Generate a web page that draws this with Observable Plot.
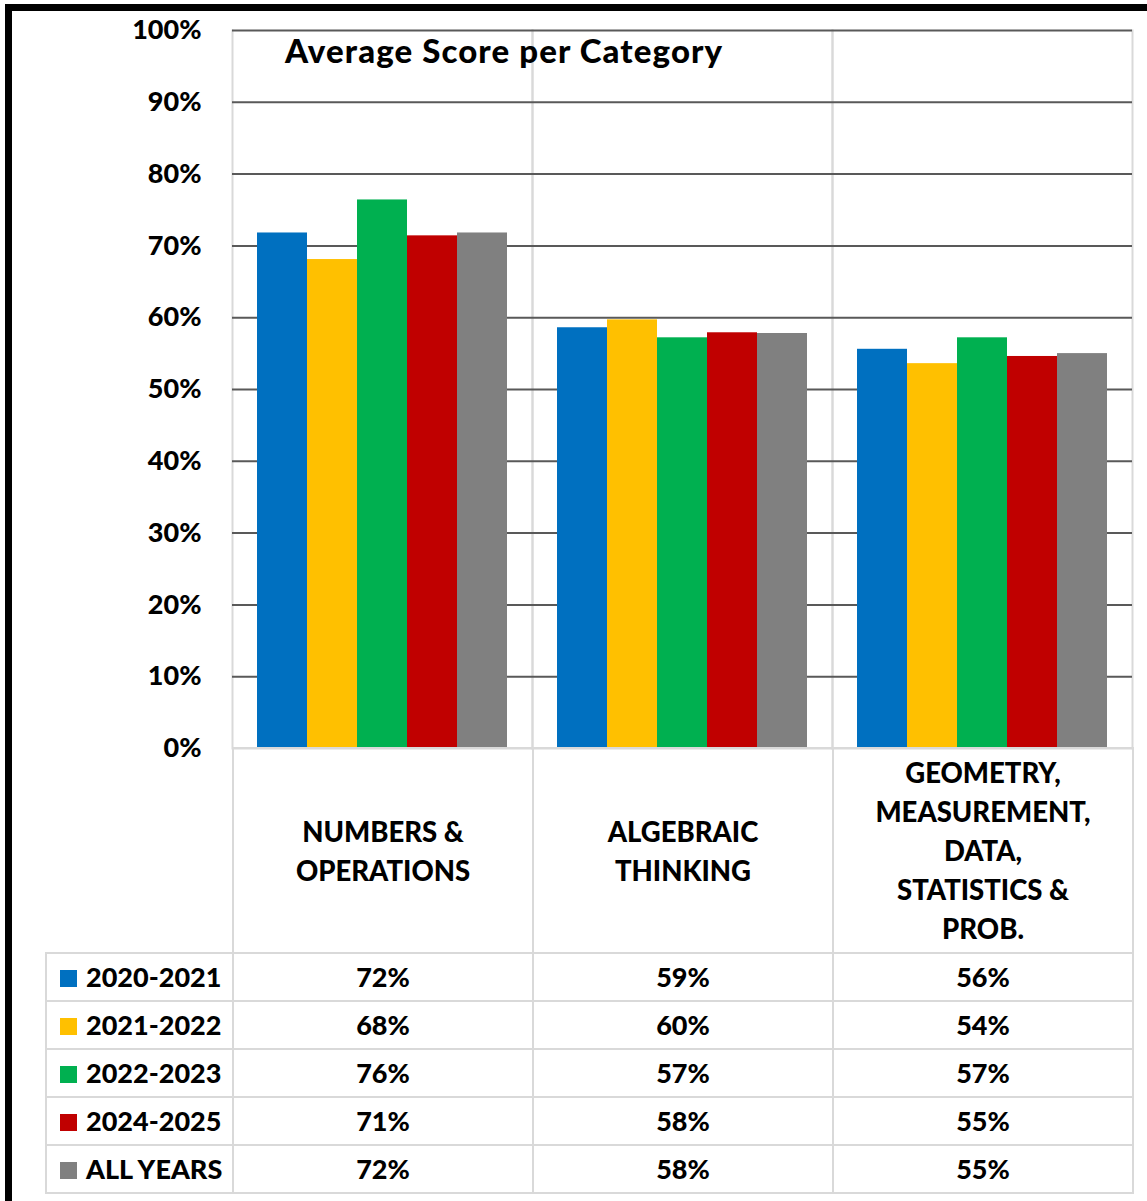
<!DOCTYPE html>
<html>
<head>
<meta charset="utf-8">
<script src="https://cdn.jsdelivr.net/npm/d3@7"></script>
<script src="https://cdn.jsdelivr.net/npm/@observablehq/plot@0.6"></script>
<style>
  html, body { margin: 0; padding: 0; background: #fff; }
  body { font-family: Lato, "Open Sans", sans-serif; font-weight: 900; color: #000; }
  #wrap { position: relative; width: 1147px; height: 1201px; overflow: hidden; background: #fff; }
  #frame { position: absolute; left: 5px; top: 4px; width: 1300px; height: 1400px;
           border-left: 7px solid #000; border-top: 7px solid #000; box-sizing: border-box; pointer-events: none; z-index: 5; }
  #chart { position: absolute; left: 0; top: 0; }
  #title { position: absolute; left: 285px; top: 30px; font-size: 33px; font-weight: 900; letter-spacing: 1.1px; white-space: nowrap; line-height: 40px; z-index: 3; }
  #tbl { position: absolute; left: 45px; top: 747px; border-collapse: collapse; table-layout: fixed; width: 1089px; }
  #tbl td { border: 2px solid #d9d9d9; font-size: 27px; font-weight: 900; text-align: center; vertical-align: middle; padding: 0; }
  #tbl tr.cat td { height: 203px; line-height: 39px; font-size: 27.5px; }
  #tbl tr.cat td.blank { border-top: none; border-left: none; border-right: none; }
  #tbl tr.row td { height: 46px; line-height: 46px; }
  #tbl td.lab { text-align: left; padding-left: 13px; white-space: nowrap; }
  .sw { display: inline-block; width: 17px; height: 17px; margin-right: 9px; vertical-align: 0px; }
</style>
</head>
<body>
<div id="wrap">
  <div id="chart"></div>
  <div id="title"></div>
  <table id="tbl"></table>
  <div id="frame"></div>
</div>
<script>
// ---- data ----
const title = "Average Score per Category";
const categories = ["NUMBERS & OPERATIONS", "ALGEBRAIC THINKING", "GEOMETRY, MEASUREMENT, DATA, STATISTICS & PROB."];
const categoryLines = [
  ["NUMBERS &", "OPERATIONS"],
  ["ALGEBRAIC", "THINKING"],
  ["GEOMETRY,", "MEASUREMENT,", "DATA,", "STATISTICS &", "PROB."]
];
const series = ["2020-2021", "2021-2022", "2022-2023", "2024-2025", "ALL YEARS"];
const seriesColors = ["#0070C0", "#FFC000", "#00B050", "#C00000", "#808080"];
const s2020 = [0.718, 0.586, 0.556];
const s2021 = [0.681, 0.597, 0.536];
const s2022 = [0.764, 0.572, 0.572];
const s2024 = [0.714, 0.579, 0.546];
const sAll  = [0.718, 0.578, 0.550];
const yTicks = [0, 0.1, 0.2, 0.3, 0.4, 0.5, 0.6, 0.7, 0.8, 0.9, 1.0];

const seriesValues = [s2020, s2021, s2022, s2024, sAll];
const pct = d3.format(".0%");

const data = [];
series.forEach((s, i) => categories.forEach((c, j) => data.push({ category: c, series: s, value: seriesValues[i][j] })));

const chart = Plot.plot({
  width: 1147,
  height: 760,
  marginLeft: 232,
  marginRight: 15,
  marginTop: 30,
  marginBottom: 12,
  style: { fontFamily: "Lato, 'Open Sans', sans-serif", fontWeight: 900, fontSize: "27px", color: "#000", background: "transparent", overflow: "visible" },
  fx: { domain: categories, padding: 0, axis: null },
  x: { domain: series, paddingInner: 0, paddingOuter: 0.5, axis: null },
  y: { domain: [0, 1], axis: null },
  color: { domain: series, range: seriesColors },
  marks: [
    Plot.frame({ anchor: "left", stroke: "#d9d9d9", strokeWidth: 2 }),
    Plot.frame({ anchor: "right", stroke: "#d9d9d9", strokeWidth: 2 }),
    Plot.gridY(yTicks.filter(t => t > 0), { stroke: "#595959", strokeWidth: 2, strokeOpacity: 1 }),
    Plot.axisY(yTicks, { tickFormat: pct, tickSize: 0, tickPadding: 31, fontSize: 27, fontWeight: 900, fill: "#000", label: null }),
    Plot.barY(data, { fx: "category", x: "series", y: "value", fill: "series", inset: 0 }),
    Plot.ruleY([0], { stroke: "#d9d9d9", strokeWidth: 2 })
  ]
});
document.getElementById("chart").appendChild(chart);
document.getElementById("title").textContent = title;

// ---- data table below the chart ----
const tbl = document.getElementById("tbl");
const cg = document.createElement("colgroup");
[187, 300, 300, 300].forEach(w => { const c = document.createElement("col"); c.style.width = w + "px"; cg.appendChild(c); });
tbl.appendChild(cg);

const catRow = document.createElement("tr");
catRow.className = "cat";
const blank = document.createElement("td"); blank.className = "blank"; catRow.appendChild(blank);
categoryLines.forEach(lines => {
  const td = document.createElement("td");
  lines.forEach((l, k) => { if (k) td.appendChild(document.createElement("br")); td.appendChild(document.createTextNode(l)); });
  catRow.appendChild(td);
});
tbl.appendChild(catRow);

series.forEach((s, i) => {
  const tr = document.createElement("tr");
  tr.className = "row";
  const lab = document.createElement("td"); lab.className = "lab";
  const sw = document.createElement("span"); sw.className = "sw"; sw.style.background = seriesColors[i];
  lab.appendChild(sw); lab.appendChild(document.createTextNode(s));
  tr.appendChild(lab);
  seriesValues[i].forEach(v => { const td = document.createElement("td"); td.textContent = pct(v); tr.appendChild(td); });
  tbl.appendChild(tr);
});
</script>
</body>
</html>
